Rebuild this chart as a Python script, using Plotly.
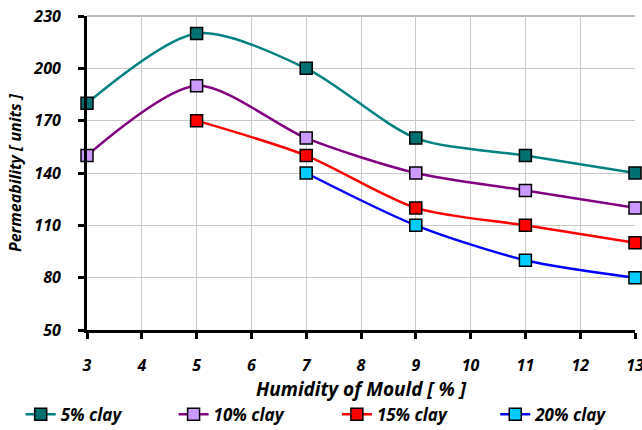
import plotly.graph_objects as go

humidity = [3, 5, 7, 9, 11, 13]
clay5 = [180, 220, 200, 160, 150, 140]
clay10 = [150, 190, 160, 140, 130, 120]
humidity15 = [5, 7, 9, 11, 13]
clay15 = [170, 150, 120, 110, 100]
humidity20 = [7, 9, 11, 13]
clay20 = [140, 110, 90, 80]

series = [
    ("5% clay", humidity, clay5, "#008080", "#007070"),
    ("10% clay", humidity, clay10, "#800080", "#CC99FF"),
    ("15% clay", humidity15, clay15, "#FF0000", "#FF0000"),
    ("20% clay", humidity20, clay20, "#0000FF", "#00CCFF"),
]
legend_x = [-0.121, 0.158, 0.456, 0.745]

FONT = "Open Sans"
BI = dict(family=FONT, style="italic", weight="bold", color="black")
fig = go.Figure()
legend_ids = ["legend", "legend2", "legend3", "legend4"]
for (name, xs, ys, lc, mc), lid in zip(series, legend_ids):
    fig.add_trace(go.Scatter(
        x=xs, y=ys, name=name, mode="lines+markers", legend=lid,
        line=dict(color=lc, width=2.5, shape="spline", smoothing=0.8),
        marker=dict(symbol="square", size=12, color=mc,
                    line=dict(color="black", width=1.5)),
        cliponaxis=False,
    ))

legend_font = dict(size=17, family=FONT, style="italic", weight="bold", color="black")
layout_legends = {}
for lid, lx in zip(legend_ids, legend_x):
    layout_legends[lid] = dict(orientation="h", x=lx, xanchor="left", y=-0.27,
                               yanchor="middle", font=legend_font,
                               bgcolor="rgba(0,0,0,0)")

fig.update_layout(
    width=642, height=430,
    margin=dict(l=87, r=7, t=16, b=100, autoexpand=False),
    plot_bgcolor="white", paper_bgcolor="white",
    font=dict(family=FONT, color="black"),
    showlegend=True,
    **layout_legends,
)
fig.update_xaxes(
    range=[3, 13], dtick=1, tick0=3,
    showgrid=True, gridcolor="#c8c8c8", gridwidth=1,
    showline=True, linecolor="black", linewidth=3, mirror=False,
    ticks="outside", ticklen=6, tickwidth=3, tickcolor="black",
    ticklabelstandoff=13, ticklabeloverflow="allow",
    tickfont=dict(size=16, **BI),
    title=dict(text="Humidity of Mould [ % ]", standoff=4,
               font=dict(size=19, **BI)),
    zeroline=False,
)
fig.update_yaxes(
    range=[50, 230], dtick=30, tick0=50,
    showgrid=True, gridcolor="#c8c8c8", gridwidth=1,
    showline=True, linecolor="black", linewidth=3,
    ticks="outside", ticklen=6, tickwidth=3, tickcolor="black",
    ticklabelstandoff=14, ticklabeloverflow="allow",
    tickfont=dict(size=16, **BI),
    title=dict(text="Permeability [ units ]", standoff=8,
               font=dict(size=16, **BI)),
    zeroline=False,
)
# top border line at 230
fig.add_shape(type="line", xref="paper", yref="paper", x0=0, x1=1, y0=1, y1=1,
              line=dict(color="#a0a0a0", width=1.5), layer="below")

fig.write_html("out.html")
